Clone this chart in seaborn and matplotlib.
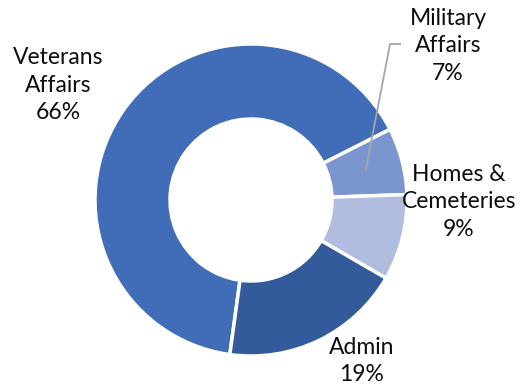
import matplotlib
matplotlib.use("Agg")
import matplotlib.pyplot as plt
import numpy as np
import seaborn as sns

# Budget shares by program area (percent)
categories = ["Veterans\nAffairs", "Military\nAffairs", "Homes &\nCemeteries", "Admin"]
shares = [66, 7, 9, 19]

sns.set_theme(style="white")
plt.rcParams["font.family"] = ["Lato", "DejaVu Sans"]

colors = sns.color_palette(["#416CB8", "#7B95CF", "#B1BDDF", "#335A9A"])

W, H = 531, 387
fig = plt.figure(figsize=(W / 100, H / 100), dpi=100)
ax = fig.add_axes([0, 0, 1, 1])

cx, cy = 251, H - 200
R, ring = 156, 75

wedges, _ = ax.pie(
    shares,
    colors=colors,
    startangle=-97.8,
    counterclock=False,
    center=(cx, cy),
    radius=R,
    wedgeprops=dict(width=ring, edgecolor="white", linewidth=2.5),
    frame=True,
)
ax.set_xlim(0, W)
ax.set_ylim(0, H)
ax.axis("off")

# label anchor points (pixel coordinates, y measured from top)
label_pos = [(58, 85), (448, 46), (459, 202), (362, 361)]
for name, share, (lx, ly) in zip(categories, shares, label_pos):
    ax.text(lx, H - ly, f"{name}\n{share}%", ha="center", va="center",
            fontsize=16.5, color="#0D0D0D", linespacing=1.38)

# leader line from the Military Affairs wedge to its label
w = wedges[1]
mid = np.deg2rad((w.theta1 + w.theta2) / 2)
rm = R - ring / 2
sx, sy = cx + rm * np.cos(mid), cy + rm * np.sin(mid)
ax.plot([sx, 390, 401], [sy, H - 44, H - 44], color="#A6A6A6", linewidth=1.3,
        solid_capstyle="butt")

fig.savefig("out.png", dpi=100)
